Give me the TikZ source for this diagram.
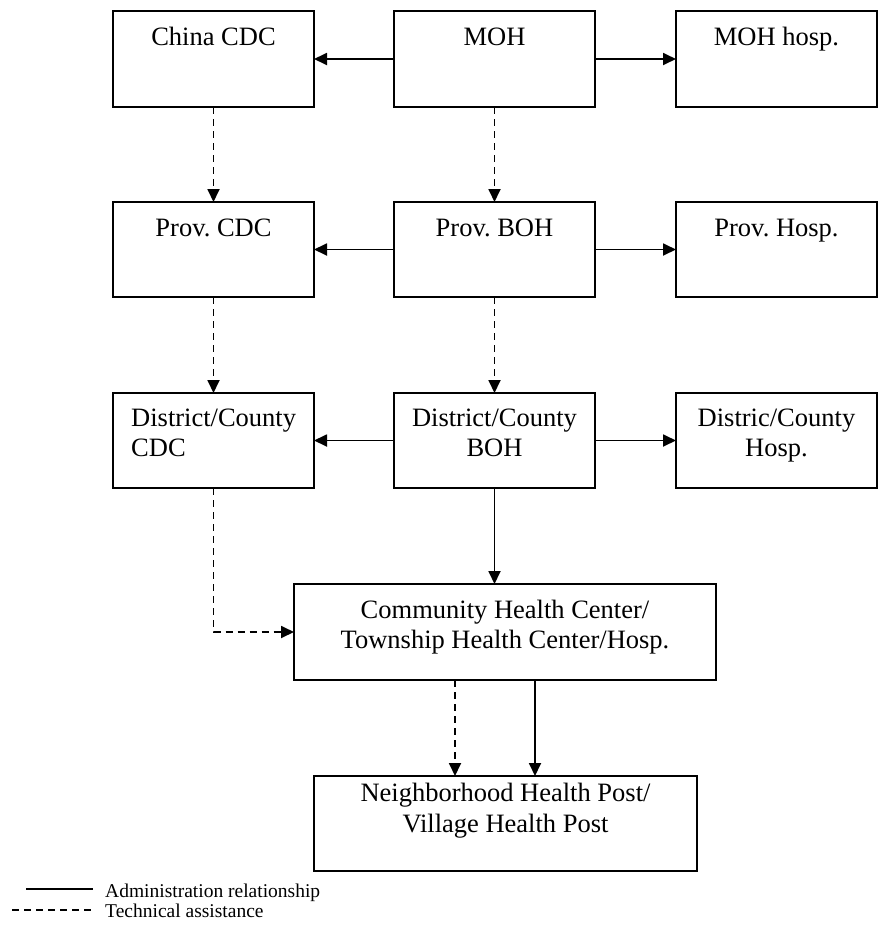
\documentclass[tikz,border=0pt]{standalone}
\usepackage{fontspec}
\setmainfont{Liberation Serif}
\usetikzlibrary{arrows.meta}
\frenchspacing
\begin{document}
\begin{tikzpicture}[x=1pt,y=-1pt,
  box/.style={draw,line width=1.8pt,inner sep=0pt,outer sep=0pt},
  txt/.style={inner sep=0pt,anchor=base,font=\fontsize{26.5}{31}\selectfont},
  ltxt/.style={inner sep=0pt,anchor=base west,font=\fontsize{19.5}{23}\selectfont},
  admin/.style={line width=1.8pt,-{Triangle[length=13pt,width=12pt]}},
  tech/.style={line width=1.8pt,dash pattern=on 7pt off 5pt,-{Triangle[length=13pt,width=12pt]}},
  sw/.style={minimum width=201pt,minimum height=96pt}]
\useasboundingbox (0,0) rectangle (881,930);
% boxes
\node[box,sw] (chinacdc) at (213.5,59) {};
\node[box,sw] (moh) at (494.5,59) {};
\node[box,sw] (mohh) at (776.5,59) {};
\node[box,sw,minimum height=95pt] (pcdc) at (213.5,249.5) {};
\node[box,sw,minimum height=95pt] (pboh) at (494.5,249.5) {};
\node[box,sw,minimum height=95pt] (ph) at (776.5,249.5) {};
\node[box,sw,minimum height=95pt] (dcdc) at (213.5,440.5) {};
\node[box,sw,minimum height=95pt] (dboh) at (494.5,440.5) {};
\node[box,sw,minimum height=95pt] (dh) at (776.5,440.5) {};
\node[box,minimum width=422pt,minimum height=96pt] (comm) at (505,632) {};
\node[box,minimum width=383pt,minimum height=95pt] (nb) at (505.5,823.5) {};
% texts
\node[txt] (t1) at (213.5,45) {China CDC};
\node[txt] (t2) at (494.5,45) {MOH};
\node[txt] (t3) at (776.5,45) {MOH hosp.};
\node[txt] (t4) at (213.5,236) {Prov. CDC};
\node[txt] (t5) at (494.5,236) {Prov. BOH};
\node[txt] (t6) at (776.5,236) {Prov. Hosp.};
\node[txt,anchor=base west] (t7a) at (131,426) {District/County};
\node[txt,anchor=base west] (t7b) at (131,456) {CDC};
\node[txt] (t8a) at (494.5,426) {District/County};
\node[txt] (t8b) at (494.5,456) {BOH};
\node[txt] (t9a) at (776.5,426) {Distric/County};
\node[txt] (t9b) at (776.5,456) {Hosp.};
\node[txt] (t10a) at (505,618) {Community Health Center/};
\node[txt] (t10b) at (505,648) {Township Health Center/Hosp.};
\node[txt] (t11a) at (505.5,801) {Neighborhood Health Post/};
\node[txt] (t11b) at (505.5,832) {Village Health Post};
% administration arrows
\draw[admin] (moh.west) -- (chinacdc.east);
\draw[admin] (moh.east) -- (mohh.west);
\draw[admin] (pboh.west) -- (pcdc.east);
\draw[admin] (pboh.east) -- (ph.west);
\draw[admin] (dboh.west) -- (dcdc.east);
\draw[admin] (dboh.east) -- (dh.west);
\draw[admin] (dboh.south) -- (dboh.south |- comm.north);
% technical arrows
\draw[tech] (chinacdc.south) -- (pcdc.north);
\draw[tech] (moh.south) -- (pboh.north);
\draw[tech] (pcdc.south) -- (dcdc.north);
\draw[tech] (pboh.south) -- (dboh.north);
\draw[tech] (dcdc.south) |- (comm.west);
\coordinate (xa) at (455,0);
\coordinate (xb) at (535,0);
\draw[tech] (comm.south -| xa) -- (nb.north -| xa);
\draw[admin] (comm.south -| xb) -- (nb.north -| xb);
% legend
\coordinate (l1a) at (26,889);
\coordinate (l1b) at (93,889);
\coordinate (l2a) at (12,910);
\coordinate (l2b) at (93,910);
\draw[line width=1.8pt] (l1a) -- (l1b);
\draw[line width=1.8pt,dash pattern=on 7pt off 5pt] (l2a) -- (l2b);
\node[ltxt] (lg1) at (105,897) {Administration relationship};
\node[ltxt] (lg2) at (105,917) {Technical assistance};
\end{tikzpicture}
\end{document}
